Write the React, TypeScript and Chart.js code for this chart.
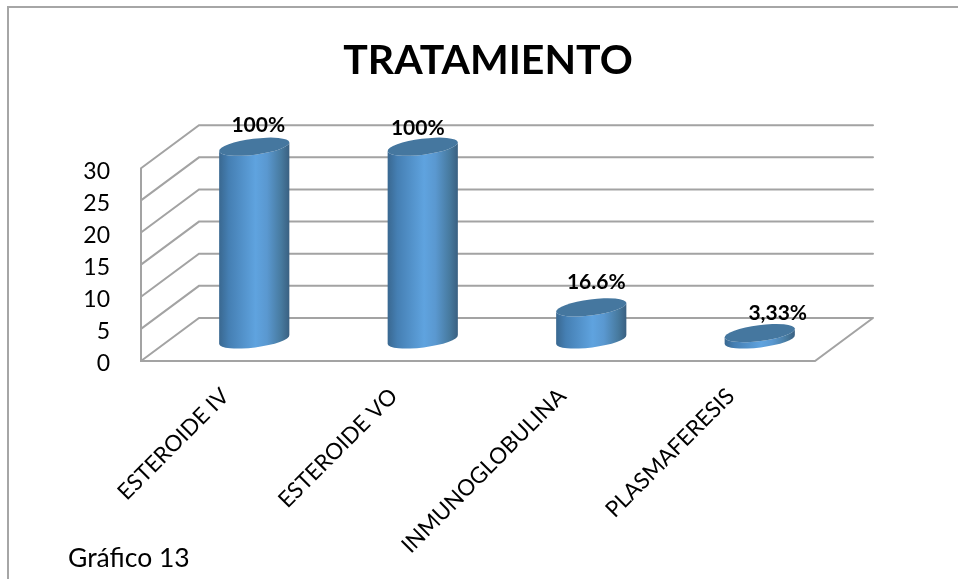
import React, { useEffect, useRef } from "react";
import { Chart, registerables } from "chart.js";

Chart.register(...registerables);

const categories = ["ESTEROIDE IV", "ESTEROIDE VO", "INMUNOGLOBULINA", "PLASMAFERESIS"];
const patients = [30, 30, 5, 1];
const valueLabels = ["100%", "100%", "16.6%", "3,33%"];
const chartTitle = "TRATAMIENTO";
const chartCaption = "Gráfico 13";

const FONT = "Lato, Carlito, 'Open Sans', sans-serif";
const GRID = "#a3a3a3";
// Depth of the pseudo-3D box, as seen from the front plane.
const DEPTH_X = 58;
const DEPTH_Y = 43;
const TILT = -7.3 * (Math.PI / 180);
const CAP_RY = 8;
// Hand placement of the value labels relative to each cylinder's cap.
const LABEL_NUDGE = [
  [4, -21.5],
  [-5, -18.5],
  [5, -25],
  [18, -20],
];

const box3d = {
  id: "box3d",
  afterLayout(chart: any) {
    // The title is centred on the whole frame, not on the plot.
    chart.titleBlock.left = 0;
    chart.titleBlock.right = chart.width;
  },
  afterUpdate(chart: any) {
    // Lato sits high on its middle baseline; settle the value ticks on their lines.
    for (const item of chart.scales.y.getLabelItems()) {
      item.options.translation[1] += 3;
    }
  },
  beforeDatasetsDraw(chart: any) {
    const { ctx, chartArea, scales } = chart;
    const { left, right, bottom } = chartArea;
    ctx.save();
    ctx.strokeStyle = GRID;
    ctx.lineWidth = 2;
    ctx.lineCap = "round";
    ctx.beginPath();
    for (const tick of scales.y.ticks) {
      const y = scales.y.getPixelForValue(tick.value);
      ctx.moveTo(left, y);
      ctx.lineTo(left + DEPTH_X, y - DEPTH_Y);
      ctx.lineTo(right + DEPTH_X, y - DEPTH_Y);
    }
    ctx.moveTo(left, scales.y.getPixelForValue(30));
    ctx.lineTo(left, bottom);
    ctx.lineTo(right, bottom);
    ctx.lineTo(right + DEPTH_X, bottom - DEPTH_Y);
    ctx.stroke();
    ctx.restore();
  },
  afterDatasetsDraw(chart: any) {
    const { ctx } = chart;
    const bars = chart.getDatasetMeta(0).data;
    const cosT = Math.cos(TILT);
    const sinT = Math.sin(TILT);
    bars.forEach((bar: any, i: number) => {
      const cx = bar.x + DEPTH_X / 2;
      const topY = bar.y - DEPTH_Y / 2;
      const baseY = bar.base - DEPTH_Y / 2;
      const rx = bar.width / 2;
      const ex = rx * cosT;
      const ey = rx * sinT;

      const body = ctx.createLinearGradient(cx - rx, 0, cx + rx, 0);
      body.addColorStop(0, "#39678f");
      body.addColorStop(0.14, "#457fb3");
      body.addColorStop(0.52, "#5fa3df");
      body.addColorStop(0.68, "#5a98d0");
      body.addColorStop(0.88, "#477a9f");
      body.addColorStop(1, "#395f80");

      ctx.save();
      ctx.fillStyle = body;
      ctx.beginPath();
      ctx.moveTo(cx - ex, topY - ey);
      ctx.lineTo(cx - ex, baseY - ey);
      ctx.ellipse(cx, baseY, rx, CAP_RY, TILT, Math.PI, 0, true);
      ctx.lineTo(cx + ex, topY + ey);
      ctx.ellipse(cx, topY, rx, CAP_RY, TILT, 0, Math.PI, false);
      ctx.closePath();
      ctx.fill();

      ctx.fillStyle = "#45779f";
      ctx.beginPath();
      ctx.ellipse(cx, topY, rx, CAP_RY, TILT, 0, Math.PI * 2);
      ctx.fill();

      const [nx, ny] = LABEL_NUDGE[i];
      ctx.fillStyle = "#000";
      ctx.font = `bold 21px ${FONT}`;
      ctx.textAlign = "center";
      ctx.textBaseline = "middle";
      ctx.fillText(valueLabels[i], cx + nx, topY + ny);
      ctx.restore();
    });
  },
};

export default function App() {
  const ref = useRef<HTMLCanvasElement>(null);

  useEffect(() => {
    const chart = new Chart(ref.current!, {
      type: "bar",
      data: {
        labels: categories,
        datasets: [
          {
            data: patients,
            backgroundColor: "transparent",
            categoryPercentage: 1,
            barPercentage: 0.42,
          },
        ],
      },
      plugins: [box3d],
      options: {
        responsive: false,
        devicePixelRatio: 1,
        animation: false,
        layout: { padding: { left: 0, right: 161, top: 0, bottom: 0 } },
        plugins: {
          legend: { display: false },
          tooltip: { enabled: false },
          title: {
            display: true,
            text: chartTitle,
            color: "#000",
            font: { family: FONT, size: 41, weight: "bold" },
            padding: { top: 36, bottom: 83 },
          },
        },
        scales: {
          x: {
            grid: { display: false },
            border: { display: false },
            afterFit(scale: any) {
              scale.height = 218;
            },
            ticks: {
              autoSkip: false,
              minRotation: 45,
              maxRotation: 45,
              padding: 14,
              color: "#000",
              font: { family: FONT, size: 22.4 },
            },
          },
          y: {
            min: 0,
            max: 30,
            grid: { display: false },
            border: { display: false },
            afterFit(scale: any) {
              scale.width = 141;
            },
            ticks: {
              stepSize: 5,
              padding: 23,
              color: "#000",
              font: { family: FONT, size: 23 },
            },
          },
        },
      },
    });
    return () => chart.destroy();
  }, []);

  return (
    <div style={{ position: "fixed", left: 0, top: 0, width: 958, height: 579, overflow: "hidden", background: "#fff" }}>
      <canvas ref={ref} width={976} height={579} style={{ display: "block" }} />
      <div
        style={{
          position: "absolute",
          left: 7,
          top: 6,
          width: 976,
          height: 600,
          boxSizing: "border-box",
          border: "2px solid #a6a6a6",
        }}
      />
      <div
        style={{
          position: "absolute",
          left: 68,
          top: 541,
          fontFamily: FONT,
          fontSize: 26.5,
          lineHeight: "32px",
          color: "#000",
        }}
      >
        {chartCaption}
      </div>
    </div>
  );
}
